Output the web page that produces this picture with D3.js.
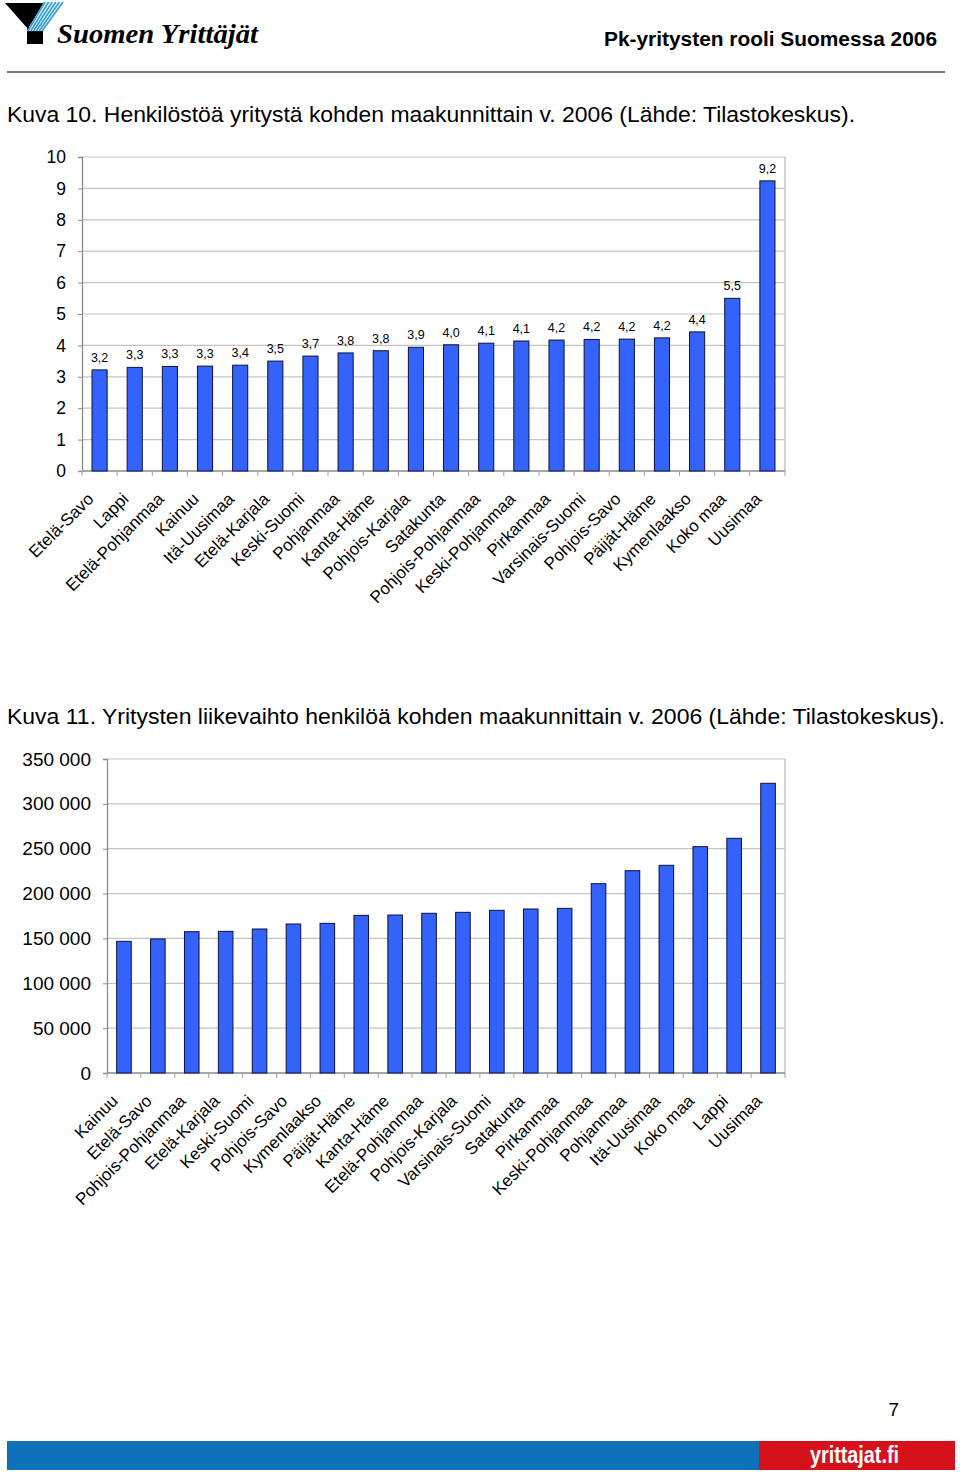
<!DOCTYPE html>
<html>
<head>
<meta charset="utf-8">
<script src="https://cdn.jsdelivr.net/npm/d3@7"></script>
<style>
  body { margin: 0; background: #fff; }
  svg { display: block; font-family: "Liberation Sans", Arial, sans-serif; }
</style>
</head>
<body>
<svg id="page" width="960" height="1472"></svg>
<script>
// ---------- data ----------
const regions1 = ["Etelä-Savo","Lappi","Etelä-Pohjanmaa","Kainuu","Itä-Uusimaa","Etelä-Karjala","Keski-Suomi","Pohjanmaa","Kanta-Häme","Pohjois-Karjala","Satakunta","Pohjois-Pohjanmaa","Keski-Pohjanmaa","Pirkanmaa","Varsinais-Suomi","Pohjois-Savo","Päijät-Häme","Kymenlaakso","Koko maa","Uusimaa"];
const staffPerFirm = [3.22,3.30,3.33,3.34,3.37,3.50,3.66,3.76,3.83,3.94,4.02,4.07,4.14,4.17,4.19,4.20,4.24,4.43,5.50,9.24];
const ticks1 = [0,1,2,3,4,5,6,7,8,9,10];

const regions2 = ["Kainuu","Etelä-Savo","Pohjois-Pohjanmaa","Etelä-Karjala","Keski-Suomi","Pohjois-Savo","Kymenlaakso","Päijät-Häme","Kanta-Häme","Etelä-Pohjanmaa","Pohjois-Karjala","Varsinais-Suomi","Satakunta","Pirkanmaa","Keski-Pohjanmaa","Pohjanmaa","Itä-Uusimaa","Koko maa","Lappi","Uusimaa"];
const turnoverPerPerson = [146800,149400,157500,157900,160500,166100,166800,175700,176100,178000,179100,181300,182800,183500,211000,225500,231500,252300,261600,322900];
const ticks2 = [0,50000,100000,150000,200000,250000,300000,350000];

const title1 = "Kuva 10. Henkilöstöä yritystä kohden maakunnittain v. 2006 (Lähde: Tilastokeskus).";
const title2 = "Kuva 11. Yritysten liikevaihto henkilöä kohden maakunnittain v. 2006 (Lähde: Tilastokeskus).";

// ---------- page ----------
const svg = d3.select("#page");
const fi = d3.formatLocale({decimal: ",", thousands: " ", grouping: [3], currency: ["", " €"]});

// header logo: black left arm + stem, striped blue right arm
const logo = svg.append("g");
logo.append("polygon").attr("points", "5,3 44,3 28,29").attr("fill", "#000");
logo.append("rect").attr("x", 27).attr("y", 27).attr("width", 16).attr("height", 17).attr("fill", "#000");
logo.append("polygon").attr("points", "44,2 64,2 43,31 27,31").attr("fill", "#fff");
for (let k = 0; k < 6; k++) {
  const t = k / 5;
  logo.append("line")
    .attr("x1", 45 + t * 18).attr("y1", 2)
    .attr("x2", 28 + t * 14).attr("y2", 31)
    .attr("stroke", "#35a0e2").attr("stroke-width", 1.8);
}
logo.append("text").attr("x", 57).attr("y", 43)
  .attr("font-family", "'Liberation Serif', 'DejaVu Serif', serif")
  .attr("font-style", "italic").attr("font-weight", "bold")
  .attr("font-size", 28).attr("textLength", 201).attr("lengthAdjust", "spacingAndGlyphs")
  .text("Suomen Yrittäjät");

svg.append("text").attr("x", 937).attr("y", 46).attr("text-anchor", "end")
  .attr("font-weight", "bold").attr("font-size", 20)
  .attr("textLength", 333).attr("lengthAdjust", "spacingAndGlyphs")
  .text("Pk-yritysten rooli Suomessa 2006");

svg.append("line").attr("x1", 7).attr("x2", 945).attr("y1", 72).attr("y2", 72)
  .attr("stroke", "#7a7a7a").attr("stroke-width", 2);

// titles
svg.append("text").attr("x", 7).attr("y", 122).attr("font-size", 22)
  .attr("textLength", 848).attr("lengthAdjust", "spacingAndGlyphs").text(title1);
svg.append("text").attr("x", 7).attr("y", 724).attr("font-size", 22)
  .attr("textLength", 938).attr("lengthAdjust", "spacingAndGlyphs").text(title2);

// ---------- chart builder ----------
function barChart(cfg) {
  const g = svg.append("g");
  const x = d3.scaleBand().domain(cfg.cats).range([cfg.left, cfg.right]).paddingInner(0).paddingOuter(0);
  const y = d3.scaleLinear().domain(cfg.domain).range([cfg.bottom, cfg.top]);

  // gridlines
  g.append("g").selectAll("line").data(cfg.ticks.filter(t => t > cfg.domain[0]))
    .join("line")
    .attr("x1", cfg.left).attr("x2", cfg.right)
    .attr("y1", d => y(d)).attr("y2", d => y(d))
    .attr("stroke", "#c4c4c4").attr("stroke-width", 1.2);
  // right border
  g.append("line").attr("x1", cfg.right).attr("x2", cfg.right)
    .attr("y1", cfg.top).attr("y2", cfg.bottom).attr("stroke", "#c4c4c4").attr("stroke-width", 1.5);

  // y axis
  const ya = g.append("g").attr("transform", `translate(${cfg.left},0)`)
    .call(d3.axisLeft(y).tickValues(cfg.ticks).tickFormat(cfg.tickFmt).tickSize(4).tickPadding(cfg.tickPad));
  ya.select(".domain").attr("stroke", "#8a8a8a").attr("stroke-width", 1.3);
  ya.selectAll(".tick line").attr("stroke", "#8a8a8a");
  ya.selectAll(".tick text").attr("font-size", cfg.yFont).attr("fill", "#000")
    .attr("font-family", "'Liberation Sans', Arial, sans-serif");

  // x axis (ticks on band boundaries)
  g.append("line").attr("x1", cfg.left).attr("x2", cfg.right)
    .attr("y1", cfg.bottom).attr("y2", cfg.bottom).attr("stroke", "#8a8a8a").attr("stroke-width", 1.3);
  g.append("g").selectAll("line").data(cfg.cats.concat(["__end"]))
    .join("line")
    .attr("x1", (d, i) => i < cfg.cats.length ? x(d) : cfg.right)
    .attr("x2", (d, i) => i < cfg.cats.length ? x(d) : cfg.right)
    .attr("y1", cfg.bottom).attr("y2", cfg.bottom + 5)
    .attr("stroke", "#a0a0a0").attr("stroke-width", 1);

  // bars
  const bw = x.bandwidth() * 0.43;
  g.append("g").selectAll("rect").data(cfg.values)
    .join("rect")
    .attr("x", (d, i) => x(cfg.cats[i]) + x.bandwidth() / 2 - bw / 2)
    .attr("width", bw)
    .attr("y", d => y(d))
    .attr("height", d => y(cfg.domain[0]) - y(d))
    .attr("fill", "#3363fb").attr("stroke", "#0b1140").attr("stroke-width", 1);

  // value labels
  if (cfg.valueLabels) {
    g.append("g").selectAll("text").data(cfg.values)
      .join("text")
      .attr("x", (d, i) => x(cfg.cats[i]) + x.bandwidth() / 2)
      .attr("y", d => y(d) - 8)
      .attr("text-anchor", "middle").attr("font-size", 12.5)
      .text(d => fi.format(".1f")(d));
  }

  // category labels
  g.append("g").selectAll("text").data(cfg.cats)
    .join("text")
    .attr("transform", d => `translate(${x(d) + x.bandwidth() / 2 - 5},${cfg.bottom + 29}) rotate(-45)`)
    .attr("text-anchor", "end").attr("font-size", 17)
    .text(d => d);
}

barChart({
  cats: regions1, values: staffPerFirm, ticks: ticks1, domain: [0, 10],
  left: 82, right: 785, top: 157, bottom: 471,
  tickFmt: d => String(d), tickPad: 12, yFont: 17.5, valueLabels: true
});

barChart({
  cats: regions2, values: turnoverPerPerson, ticks: ticks2, domain: [0, 350000],
  left: 107, right: 785, top: 759, bottom: 1073,
  tickFmt: d => fi.format(",")(d), tickPad: 12, yFont: 19, valueLabels: false
});

// ---------- footer ----------
svg.append("text").attr("x", 899).attr("y", 1416).attr("text-anchor", "end").attr("font-size", 19).text("7");
svg.append("rect").attr("x", 7).attr("y", 1441).attr("width", 752).attr("height", 29).attr("fill", "#0f71b9");
svg.append("rect").attr("x", 759).attr("y", 1441).attr("width", 196).attr("height", 29).attr("fill", "#d6111b");
svg.append("text").attr("x", 810).attr("y", 1463).attr("font-size", 23).attr("font-weight", "bold")
  .attr("fill", "#fff").attr("textLength", 89).attr("lengthAdjust", "spacingAndGlyphs").text("yrittajat.fi");
</script>
</body>
</html>
